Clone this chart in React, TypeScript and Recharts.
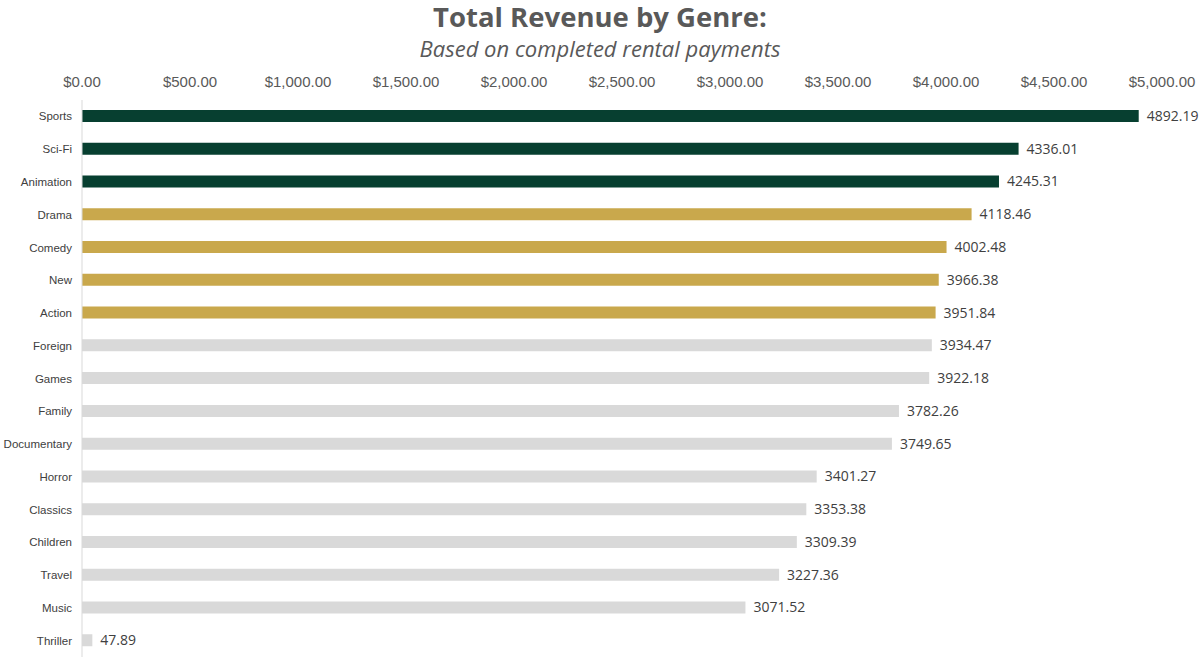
import React from "react";
import { BarChart, Bar, XAxis, YAxis, Cell, LabelList } from "recharts";

const genres = ["Sports", "Sci-Fi", "Animation", "Drama", "Comedy", "New", "Action", "Foreign", "Games", "Family", "Documentary", "Horror", "Classics", "Children", "Travel", "Music", "Thriller"];
const revenue = [4892.19, 4336.01, 4245.31, 4118.46, 4002.48, 3966.38, 3951.84, 3934.47, 3922.18, 3782.26, 3749.65, 3401.27, 3353.38, 3309.39, 3227.36, 3071.52, 47.89];
const tiers = ["top", "top", "top", "mid", "mid", "mid", "mid", "low", "low", "low", "low", "low", "low", "low", "low", "low", "low"];
const xTicks = [0, 500, 1000, 1500, 2000, 2500, 3000, 3500, 4000, 4500, 5000];

const tierColors: Record<string, string> = { top: "#073F30", mid: "#C9A84C", low: "#D9D9D9" };

const data = genres.map((g, i) => ({ genre: g, revenue: revenue[i], tier: tiers[i] }));

const fmtMoney = (v: number) =>
  "$" + v.toLocaleString("en-US", { minimumFractionDigits: 2, maximumFractionDigits: 2 });

export default function App() {
  return (
    <div style={{ position: "absolute", left: 0, top: 0, width: 1200, height: 661, background: "#fff" }}>
      <div
        style={{
          position: "absolute",
          left: 0,
          top: 0,
          width: 1200,
          textAlign: "center",
          fontFamily: "'Open Sans', sans-serif",
          fontWeight: 700,
          fontSize: 27.5,
          lineHeight: "34px",
          color: "#595959",
        }}
      >
        Total Revenue by Genre:
      </div>
      <div
        style={{
          position: "absolute",
          left: 0,
          top: 34,
          width: 1200,
          textAlign: "center",
          fontFamily: "'Open Sans', sans-serif",
          fontStyle: "italic",
          fontSize: 22,
          lineHeight: "28px",
          color: "#595959",
        }}
      >
        Based on completed rental payments
      </div>
      <BarChart
        width={1200}
        height={661}
        data={data}
        layout="vertical"
        margin={{ top: 60, right: 38, bottom: 4, left: 0 }}
        barSize={12}
      >
        <XAxis
          type="number"
          orientation="top"
          domain={[0, 5000]}
          ticks={xTicks}
          tickFormatter={fmtMoney}
          axisLine={false}
          tickLine={false}
          height={40}
          tickMargin={7}
          interval={0}
          tick={{ fill: "#595959", fontSize: 15, fontFamily: "'Liberation Sans', Arial, sans-serif" }}
        />
        <YAxis
          type="category"
          dataKey="genre"
          width={82}
          axisLine={{ stroke: "#D9D9D9" }}
          tickLine={false}
          tickMargin={4}
          interval={0}
          tick={{ fill: "#404040", fontSize: 11.5, fontFamily: "'Liberation Sans', Arial, sans-serif" }}
        />
        <Bar dataKey="revenue" isAnimationActive={false}>
          {data.map((d, i) => (
            <Cell key={i} fill={tierColors[d.tier]} />
          ))}
          <LabelList
            dataKey="revenue"
            position="right"
            offset={8}
            formatter={(v: number) => v.toFixed(2)}
            style={{ fill: "#404040", fontSize: 14, fontFamily: "'Open Sans', sans-serif" }}
          />
        </Bar>
      </BarChart>
    </div>
  );
}
